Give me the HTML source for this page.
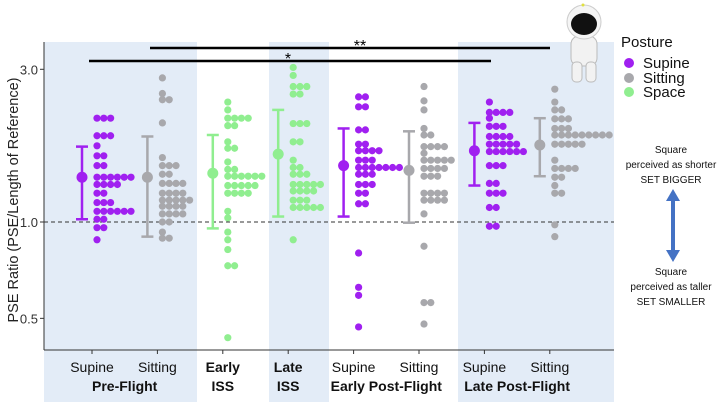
<!DOCTYPE html>
<html><head><meta charset="utf-8">
<style>
body{margin:0;background:#fff;}
svg{display:block;font-family:"Liberation Sans",sans-serif;}
</style></head>
<body>
<svg id="chart" width="725" height="402" viewBox="0 0 725 402">
  <g>
    <rect x="44" y="42" width="153" height="360" fill="#e3ecf7"/>
    <rect x="269" y="42" width="60" height="360" fill="#e3ecf7"/>
    <rect x="458" y="42" width="156" height="360" fill="#e3ecf7"/>
  </g>
  <g id="marks"></g>
  <g>
    <line x1="44" y1="42" x2="44" y2="350" stroke="#333" stroke-width="1"/>
    <line x1="44" y1="350" x2="614" y2="350" stroke="#333" stroke-width="1"/>
  </g>
  <g id="yticks"></g>
  <text x="18" y="200" transform="rotate(-90 18 200)" text-anchor="middle" font-size="14.5" fill="#222">PSE Ratio (PSE/Length of Reference)</text>
  <g id="xlabels" font-size="14" fill="#111"></g>
  <g>
    <line x1="150" y1="48" x2="550" y2="48" stroke="#000" stroke-width="2.5"/>
    <text x="360" y="51" text-anchor="middle" font-size="16">**</text>
    <line x1="89" y1="61" x2="491" y2="61" stroke="#000" stroke-width="2.5"/>
    <text x="288" y="64" text-anchor="middle" font-size="16">*</text>
  </g>
  <g>
    <rect x="571" y="36" width="26" height="30" rx="8" fill="#f2f2f2" stroke="#bbb"/>
    <rect x="572" y="62" width="10" height="20" rx="4" fill="#f2f2f2" stroke="#bbb"/>
    <rect x="586" y="62" width="10" height="20" rx="4" fill="#f2f2f2" stroke="#bbb"/>
    <circle cx="584" cy="22" r="17" fill="#f5f5f5" stroke="#ccc"/>
    <ellipse cx="584" cy="24" rx="13" ry="11" fill="#111"/>
    <circle cx="583" cy="5" r="1.5" fill="#e0e040"/>
  </g>
  <g>
    <text x="621" y="47" font-size="15" fill="#111">Posture</text>
    <circle cx="629" cy="63" r="5" fill="#a020f0"/>
    <text x="643" y="68" font-size="15" fill="#111">Supine</text>
    <circle cx="629" cy="78" r="5" fill="#a8a8ac"/>
    <text x="643" y="83" font-size="15" fill="#111">Sitting</text>
    <circle cx="629" cy="92" r="5" fill="#90ee90"/>
    <text x="643" y="97" font-size="15" fill="#111">Space</text>
  </g>
  <g font-size="10" fill="#111" text-anchor="middle">
    <text x="671" y="153">Square</text>
    <text x="671" y="168">perceived as shorter</text>
    <text x="671" y="183">SET BIGGER</text>
    <line x1="673" y1="198" x2="673" y2="253" stroke="#4472c4" stroke-width="4"/>
    <polygon points="673,189 666,201 680,201" fill="#4472c4"/>
    <polygon points="673,262 666,250 680,250" fill="#4472c4"/>
    <text x="671" y="275">Square</text>
    <text x="671" y="290">perceived as taller</text>
    <text x="671" y="305">SET SMALLER</text>
  </g>
</svg>
<script>
// ---- data ----
const groups = ["pre-supine","pre-sitting","early-iss","late-iss","early-post-supine","early-post-sitting","late-post-supine","late-post-sitting"];
const postures = ["supine","sitting","space","space","supine","sitting","supine","sitting"];
const rowValues = [
  [2.11,1.86,1.73,1.61,1.50,1.38,1.31,1.23,1.15,1.08,1.02,0.96,0.88],
  [2.82,2.52,2.41,2.04,1.59,1.50,1.41,1.32,1.23,1.17,1.12,1.06,1.00,0.93,0.89],
  [2.37,2.24,2.11,2.00,1.78,1.70,1.54,1.46,1.39,1.30,1.23,1.08,1.03,0.93,0.88,0.82,0.73,0.435],
  [3.04,2.87,2.65,2.51,2.03,1.78,1.56,1.48,1.41,1.31,1.25,1.17,1.11,0.88],
  [2.46,2.29,1.94,1.75,1.67,1.56,1.48,1.41,1.31,1.23,1.14,0.80,0.625,0.59,0.47],
  [2.65,2.39,2.24,1.96,1.87,1.72,1.64,1.56,1.47,1.39,1.23,1.17,1.06,0.84,0.56,0.48],
  [2.37,2.20,2.11,1.99,1.85,1.75,1.66,1.50,1.32,1.23,1.11,0.97],
  [2.60,2.37,2.24,2.10,1.96,1.87,1.75,1.56,1.47,1.38,1.30,1.23,0.98,0.90]
];
const rowCounts = [
  [3,3,1,2,2,6,4,2,3,6,2,2,1],
  [1,1,2,1,1,3,2,4,4,5,4,4,2,1,2],
  [1,1,4,2,1,2,1,2,6,5,4,1,1,1,1,1,2,1],
  [1,1,3,2,3,2,1,2,3,5,4,3,5,1],
  [2,2,2,2,4,3,7,3,3,2,2,1,1,1,1],
  [1,1,1,1,2,4,1,5,4,3,4,4,1,1,2,1],
  [1,4,1,3,4,5,6,3,2,3,2,2],
  [1,1,2,3,3,9,5,1,4,2,1,2,1,1]
];
const means = [1.38,1.38,1.42,1.63,1.50,1.45,1.67,1.74];
const lowers = [1.02,0.90,0.955,1.04,1.04,0.995,1.30,1.39];
const uppers = [1.72,1.85,1.87,2.24,1.96,1.92,2.04,2.11];
const yTicks = [0.5,1.0,3.0];
const yTickLabels = ["0.5","1.0","3.0"];
const catLabels = ["Supine","Sitting","Early","Late","Supine","Sitting","Supine","Sitting"];
const catBold = [false,false,true,true,false,false,false,false];
const groupLabels = ["Pre-Flight","ISS","ISS","Early Post-Flight","Late Post-Flight"];
const groupSpans = [[0,1],[2,2],[3,3],[4,5],[6,7]];

// ---- scales ----
const colors = {supine:"#a020f0", sitting:"#a8a8ac", space:"#90ee90"};
function yScale(v){ return 222 - Math.log(v)*139; }
function xScale(i){ return 97 + i*65.4; }
const NS = "http://www.w3.org/2000/svg";
function mk(tag, attrs){ const e=document.createElementNS(NS,tag); for(const k in attrs) e.setAttribute(k,attrs[k]); return e; }

const marks = document.getElementById('marks');
groups.forEach((g,i)=>{
  const col = colors[postures[i]];
  const gx = xScale(i);
  const grp = mk('g',{});
  
  
  const ex = gx - 15;
  const eb = mk('g',{stroke:col,'stroke-width':2.5});
  
  
  eb.appendChild(mk('line',{x1:ex,y1:yScale(uppers[i]),x2:ex,y2:yScale(lowers[i])}));
  eb.appendChild(mk('line',{x1:ex-6,y1:yScale(uppers[i]),x2:ex+6,y2:yScale(uppers[i])}));
  eb.appendChild(mk('line',{x1:ex-6,y1:yScale(lowers[i]),x2:ex+6,y2:yScale(lowers[i])}));
  grp.appendChild(eb);
  const m = mk('circle',{cx:ex,cy:yScale(means[i]),r:5.5,fill:col});
  
  
  grp.appendChild(m);
  rowValues[i].forEach((v,r)=>{
    for(let k=0;k<rowCounts[i][r];k++){
      const d = mk('circle',{cx:gx+k*6.8,cy:yScale(v),r:3.6,fill:col});
      
      
      grp.appendChild(d);
    }
  });
  marks.appendChild(grp);
});
const ref = mk('line',{x1:44,y1:yScale(1),x2:614,y2:yScale(1),stroke:'#333','stroke-width':1,'stroke-dasharray':'4,3'});


marks.insertBefore(ref, marks.firstChild);

const yt = document.getElementById('yticks');
yTicks.forEach((t,i)=>{
  const l = mk('line',{x1:40,y1:yScale(t),x2:44,y2:yScale(t),stroke:'#333'});
  
  
  yt.appendChild(l);
  const tx = mk('text',{x:38,y:yScale(t)+5,'text-anchor':'end','font-size':13,fill:'#333'});
  tx.textContent = yTickLabels[i];
  
  
  yt.appendChild(tx);
});

const xl = document.getElementById('xlabels');
catLabels.forEach((c,i)=>{
  const tk = mk('line',{x1:xScale(i)-5,y1:350,x2:xScale(i)-5,y2:354,stroke:'#333'});
  
  
  xl.appendChild(tk);
  const t = mk('text',{x:xScale(i)-5,y:372,'text-anchor':'middle','font-weight':catBold[i]?'bold':'normal'});
  t.textContent = c;
  
  
  xl.appendChild(t);
});
groupLabels.forEach((g,i)=>{
  const cx = (xScale(groupSpans[i][0])+xScale(groupSpans[i][1]))/2 - 5;
  const t = mk('text',{x:cx,y:391,'text-anchor':'middle','font-weight':'bold'});
  t.textContent = g;
  
  
  xl.appendChild(t);
});
</script>
</body></html>
